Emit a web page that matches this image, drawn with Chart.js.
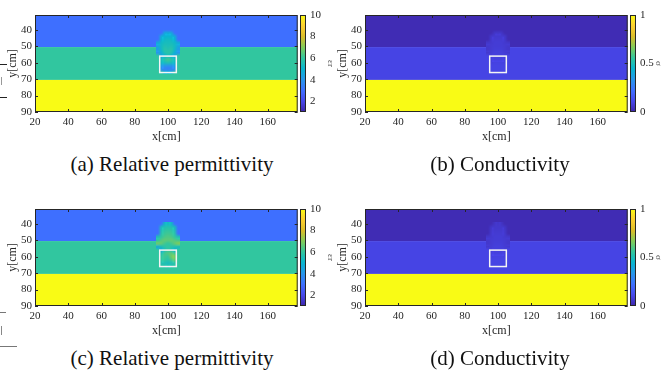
<!DOCTYPE html>
<html>
<head>
<meta charset="utf-8">
<script src="https://cdn.jsdelivr.net/npm/chart.js@4.4.0/dist/chart.umd.min.js"></script>
<style>
body { margin: 0; background: #fff; width: 661px; height: 371px; overflow: hidden; position: relative; font-family: "Liberation Serif", "Times New Roman", serif; }
canvas { position: absolute; }
.cap { position: absolute; font-size: 21px; line-height: 24px; white-space: nowrap; transform: translateX(-50%); color: #111; }
.frag { position: absolute; background: #444; height: 1px; }
</style>
</head>
<body>
<canvas id="pa" width="300" height="150" style="left:0px;top:0px"></canvas>
<canvas id="ca" width="36" height="130" style="left:300px;top:0px"></canvas>
<canvas id="pb" width="300" height="150" style="left:330px;top:0px"></canvas>
<canvas id="cb" width="34" height="130" style="left:630px;top:0px"></canvas>
<canvas id="pc" width="300" height="150" style="left:0px;top:194px"></canvas>
<canvas id="cc" width="36" height="130" style="left:300px;top:194px"></canvas>
<canvas id="pd" width="300" height="150" style="left:330px;top:194px"></canvas>
<canvas id="cd" width="34" height="130" style="left:630px;top:194px"></canvas>

<div class="cap" style="left:172px;top:152px">(a) Relative permittivity</div>
<div class="cap" style="left:500px;top:152px">(b) Conductivity</div>
<div class="cap" style="left:172px;top:346px">(c) Relative permittivity</div>
<div class="cap" style="left:500px;top:346px">(d) Conductivity</div>

<!-- bits of the neighbouring table at the left edge -->
<div class="frag" style="left:0;top:64px;width:7px;background:#222"></div>
<div class="frag" style="left:0;top:97px;width:7px;background:#222"></div>
<div class="frag" style="left:1px;top:77px;width:1px;height:8px;background:#999"></div>
<div class="frag" style="left:0;top:312px;width:6px;background:#777"></div>
<div class="frag" style="left:1px;top:326px;width:1px;height:9px;background:#888"></div>
<div class="frag" style="left:0;top:346px;width:17px;background:#777"></div>

<script>
// axes
const xLimits = [20, 178];
const yLimits = [31, 90];
const xTicks = [20, 40, 60, 80, 100, 120, 140, 160];
const yTicks = [40, 50, 60, 70, 80, 90];

// soil layers (cm)
const layerTop = [31, 50.5, 70.5];
const layerBottom = [50.5, 70.5, 90];
const epsLayers = [3, 6, 10];
const sigmaLayers = [0.02, 0.1, 1];

// colour bars
const epsRange = [1, 10];
const epsTicks = [2, 4, 6, 8, 10];
const sigmaRange = [0, 1];
const sigmaTicks = [0, 0.5, 1];

// reconstructed object, cells of 2 cm
const cellX = [93, 95, 97, 99, 101, 103, 105];
const cellY = [39, 41, 43, 45, 47, 49, 51, 53, 55, 57, 59, 61, 63, 65];
const targetBox = [95, 105, 56, 66];
const n = null;

const epsA = [
  [n, n, n, n, n, n, n],
  [n, n, 4.6, 4.7, 4.6, n, n],
  [n, 4.7, 4.9, 5.0, 4.9, 4.7, n],
  [n, 5.0, 5.2, 5.3, 5.2, 5.0, n],
  [4.7, 5.2, 5.4, 5.4, 5.4, 5.2, 4.7],
  [4.5, 5.3, 5.6, 5.5, 5.6, 5.3, 4.5],
  [4.2, 5.2, 5.8, 5.7, 5.8, 5.2, 4.2],
  [4.0, 4.8, 5.6, 5.8, 5.6, 4.8, 4.0],
  [n, 4.4, 5.0, 5.4, 5.0, 4.4, n],
  [n, 5.4, 5.8, 6.2, 5.8, 5.4, n],
  [n, 5.2, 5.4, 5.6, 5.4, 5.2, n],
  [n, 4.2, 4.0, 3.9, 4.0, 4.2, n],
  [n, 3.7, 3.5, 3.4, 3.5, 3.7, n],
  [n, n, 5.0, 5.0, 5.0, n, n]
];

const sigmaB = [
  [n, n, n, n, n, n, n],
  [n, n, 0.055, 0.06, 0.055, n, n],
  [n, 0.06, 0.065, 0.065, 0.065, 0.06, n],
  [n, 0.065, 0.07, 0.07, 0.07, 0.065, n],
  [0.06, 0.065, 0.075, 0.075, 0.075, 0.065, 0.06],
  [0.06, 0.07, 0.075, 0.075, 0.075, 0.07, 0.06],
  [0.06, 0.07, 0.08, 0.08, 0.08, 0.07, 0.06],
  [0.065, 0.075, 0.085, 0.085, 0.085, 0.075, 0.065],
  [n, 0.08, 0.085, 0.085, 0.085, 0.08, n],
  [n, 0.085, 0.09, 0.09, 0.09, 0.085, n],
  [n, 0.09, 0.095, 0.095, 0.095, 0.09, n],
  [n, n, n, n, n, n, n],
  [n, n, n, n, n, n, n],
  [n, n, n, n, n, n, n]
];

const epsC = [
  [n, n, 5.2, 5.3, 5.2, n, n],
  [n, 5.4, 5.6, 5.7, 5.6, 5.4, n],
  [n, 5.6, 5.9, 6.0, 5.9, 5.6, n],
  [n, 5.8, 6.1, 6.2, 6.1, 5.8, n],
  [5.6, 6.0, 6.3, 6.4, 6.3, 6.0, 5.6],
  [6.0, 6.4, 6.6, 6.5, 6.6, 6.4, 6.2],
  [6.8, 6.6, 6.2, 6.0, 6.2, 6.6, 7.0],
  [4.6, 5.4, 5.8, 6.0, 5.8, 5.6, 5.4],
  [n, 4.6, 5.6, 6.0, 5.6, 5.0, n],
  [n, 5.6, 6.2, 6.4, 6.6, 6.2, n],
  [n, 6.0, 6.2, 6.0, 6.8, 7.0, n],
  [n, 6.0, 6.0, 5.8, 6.2, 6.6, n],
  [n, 5.6, 5.6, 5.4, 5.6, 5.8, n],
  [n, n, 5.8, 5.8, 5.8, n, n]
];

const sigmaD = [
  [n, n, 0.05, 0.055, 0.05, n, n],
  [n, 0.055, 0.06, 0.06, 0.06, 0.055, n],
  [n, 0.06, 0.065, 0.065, 0.065, 0.06, n],
  [n, 0.065, 0.07, 0.07, 0.07, 0.065, n],
  [0.06, 0.065, 0.075, 0.075, 0.075, 0.065, 0.06],
  [0.06, 0.07, 0.075, 0.075, 0.075, 0.07, 0.06],
  [0.06, 0.07, 0.08, 0.08, 0.08, 0.07, 0.06],
  [0.065, 0.075, 0.085, 0.085, 0.085, 0.075, 0.065],
  [n, 0.08, 0.085, 0.085, 0.085, 0.08, n],
  [n, 0.085, 0.09, 0.09, 0.09, 0.085, n],
  [n, 0.09, 0.095, 0.095, 0.095, 0.09, n],
  [n, n, n, n, n, n, n],
  [n, n, n, n, n, n, n],
  [n, n, n, n, n, n, n]
];

const cellSize = 2;
const ink = '#262626';
const serif = '"Liberation Serif", "Times New Roman", serif';

// parula(10)
const parulaStops = [
  [62, 38, 168], [71, 71, 235], [62, 111, 255], [39, 150, 235], [8, 181, 208],
  [49, 198, 159], [129, 204, 89], [220, 189, 41], [252, 207, 48], [249, 251, 21]
];

function parulaRGB(t) {
  t = Math.min(1, Math.max(0, t));
  const s = t * (parulaStops.length - 1);
  const i = Math.min(parulaStops.length - 2, Math.floor(s));
  const f = s - i;
  const a = parulaStops[i], b = parulaStops[i + 1];
  return a.map((v, k) => Math.round(v + (b[k] - v) * f));
}
function parula(t) {
  return 'rgb(' + parulaRGB(t).join(',') + ')';
}

function heatPlugin(layers, cells, range) {
  const norm = v => (v - range[0]) / (range[1] - range[0]);
  return {
    id: 'heat',
    beforeDatasetsDraw(chart) {
      const ctx = chart.ctx, a = chart.chartArea;
      const x = chart.scales.x, y = chart.scales.y;
      ctx.save();
      ctx.beginPath();
      ctx.rect(a.left, a.top, a.width, a.height);
      ctx.clip();
      const xl = x.getPixelForValue(xLimits[0]), xr = x.getPixelForValue(xLimits[1]);
      for (let i = 0; i < layers.length; i++) {
        const y0 = y.getPixelForValue(layerTop[i]);
        const y1 = y.getPixelForValue(layerBottom[i]);
        ctx.fillStyle = parula(norm(layers[i]));
        ctx.fillRect(xl, y0, xr - xl, y1 - y0);
      }
      // object cells: one texel per cell, scaled onto the axes with smoothing
      const off = document.createElement('canvas');
      off.width = cellX.length; off.height = cellY.length;
      const octx = off.getContext('2d');
      const img = octx.createImageData(off.width, off.height);
      for (let r = 0; r < cells.length; r++) {
        for (let c = 0; c < cells[r].length; c++) {
          const v = cells[r][c];
          const k = (r * off.width + c) * 4;
          if (v === null) { img.data[k + 3] = 0; continue; }
          const rgb = parulaRGB(norm(v));
          img.data[k] = rgb[0]; img.data[k + 1] = rgb[1]; img.data[k + 2] = rgb[2]; img.data[k + 3] = 255;
        }
      }
      octx.putImageData(img, 0, 0);
      const px0 = x.getPixelForValue(cellX[0]);
      const px1 = x.getPixelForValue(cellX[cellX.length - 1] + cellSize);
      const py0 = y.getPixelForValue(cellY[0]);
      const py1 = y.getPixelForValue(cellY[cellY.length - 1] + cellSize);
      ctx.imageSmoothingEnabled = true;
      ctx.imageSmoothingQuality = 'high';
      ctx.drawImage(off, px0, py0, px1 - px0, py1 - py0);

      const bx0 = x.getPixelForValue(targetBox[0]), bx1 = x.getPixelForValue(targetBox[1]);
      const by0 = y.getPixelForValue(targetBox[2]), by1 = y.getPixelForValue(targetBox[3]);
      ctx.strokeStyle = '#f4f4f4';
      ctx.lineWidth = 1.5;
      ctx.strokeRect(bx0, by0, bx1 - bx0, by1 - by0);
      ctx.restore();
    },
    afterDraw(chart) {
      const ctx = chart.ctx, a = chart.chartArea;
      const x = chart.scales.x, y = chart.scales.y;
      ctx.save();
      ctx.strokeStyle = ink;
      ctx.lineWidth = 1;
      ctx.beginPath();
      xTicks.forEach(v => {
        const px = Math.round(x.getPixelForValue(v)) + 0.5;
        ctx.moveTo(px, a.bottom); ctx.lineTo(px, a.bottom - 3);
        ctx.moveTo(px, a.top); ctx.lineTo(px, a.top + 3);
      });
      yTicks.forEach(v => {
        const py = Math.round(y.getPixelForValue(v)) + 0.5;
        ctx.moveTo(a.left, py); ctx.lineTo(a.left + 3, py);
        ctx.moveTo(a.right, py); ctx.lineTo(a.right - 3, py);
      });
      ctx.stroke();
      ctx.strokeRect(a.left + 0.5, a.top + 0.5, a.width - 1, a.height - 1);
      ctx.restore();
    }
  };
}

function cbarPlugin(range) {
  return {
    id: 'cbar',
    beforeDatasetsDraw(chart) {
      const ctx = chart.ctx, a = chart.chartArea, y = chart.scales.y;
      const top = y.getPixelForValue(range[1]), bot = y.getPixelForValue(range[0]);
      const g = ctx.createLinearGradient(0, bot, 0, top);
      for (let k = 0; k <= 40; k++) g.addColorStop(k / 40, parula(k / 40));
      ctx.save();
      ctx.fillStyle = g;
      ctx.fillRect(a.left, top, a.width, bot - top);
      ctx.strokeStyle = ink;
      ctx.lineWidth = 1;
      ctx.strokeRect(a.left + 0.5, top + 0.5, a.width - 1, bot - top - 1);
      ctx.restore();
    }
  };
}

function makePanel(id, layers, cells, range) {
  new Chart(document.getElementById(id), {
    type: 'scatter',
    data: { datasets: [{ data: [] }] },
    options: {
      responsive: false,
      animation: false,
      devicePixelRatio: 1,
      layout: { padding: { left: 0, top: 15, right: 2.3, bottom: 6 } },
      plugins: { legend: { display: false }, tooltip: { enabled: false } },
      scales: {
        x: {
          type: 'linear', min: xLimits[0], max: xLimits[1],
          afterBuildTicks: s => { s.ticks = xTicks.map(v => ({ value: v })); },
          afterFit: s => { s.height = 32; },
          grid: { display: false, drawTicks: false },
          border: { display: false },
          ticks: { padding: 4, color: ink, autoSkip: false, maxRotation: 0, font: { family: serif, size: 11 } },
          title: { display: true, text: 'x[cm]', padding: 0, color: ink, font: { family: serif, size: 12 } }
        },
        y: {
          type: 'linear', min: yLimits[0], max: yLimits[1], reverse: true,
          afterBuildTicks: s => { s.ticks = yTicks.map(v => ({ value: v })); },
          afterFit: s => { s.width = 35; },
          grid: { display: false, drawTicks: false },
          border: { display: false },
          ticks: { padding: 3, color: ink, autoSkip: false, font: { family: serif, size: 11 } },
          title: { display: true, text: 'y[cm]', padding: { top: 6, bottom: 0 }, color: ink, font: { family: serif, size: 12 } }
        }
      }
    },
    plugins: [heatPlugin(layers, cells, range)]
  });
}

function makeColorbar(id, range, ticks, label) {
  const el = document.getElementById(id);
  new Chart(el, {
    type: 'scatter',
    data: { datasets: [{ data: [] }] },
    options: {
      responsive: false,
      animation: false,
      devicePixelRatio: 1,
      layout: { padding: { left: 0, top: 15, right: 0, bottom: 18 } },
      plugins: { legend: { display: false }, tooltip: { enabled: false } },
      scales: {
        x: { display: false },
        y: {
          position: 'right', min: range[0], max: range[1],
          afterBuildTicks: s => { s.ticks = ticks.map(v => ({ value: v })); },
          afterFit: s => { s.width = el.width - 6; },
          grid: { display: false, drawTicks: false },
          border: { display: false },
          ticks: { padding: 4, color: ink, autoSkip: false, callback: v => String(v), font: { family: serif, size: 11 } },
          title: { display: true, text: label, padding: 0, color: '#555', font: { family: serif, size: 9 } }
        }
      }
    },
    plugins: [cbarPlugin(range)]
  });
}

makePanel('pa', epsLayers, epsA, epsRange);
makeColorbar('ca', epsRange, epsTicks, 'εr');
makePanel('pb', sigmaLayers, sigmaB, sigmaRange);
makeColorbar('cb', sigmaRange, sigmaTicks, 'σ');
makePanel('pc', epsLayers, epsC, epsRange);
makeColorbar('cc', epsRange, epsTicks, 'εr');
makePanel('pd', sigmaLayers, sigmaD, sigmaRange);
makeColorbar('cd', sigmaRange, sigmaTicks, 'σ');
</script>
</body>
</html>
